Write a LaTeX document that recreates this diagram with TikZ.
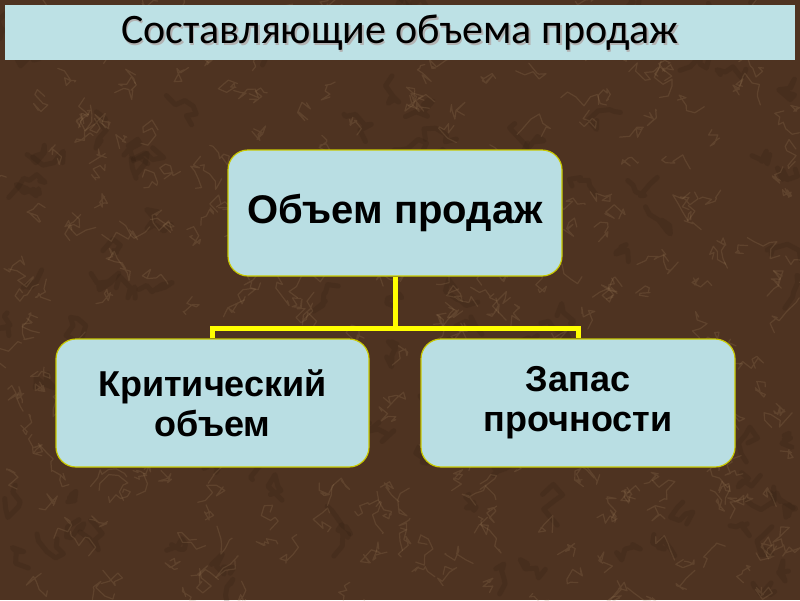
\documentclass[tikz,border=0pt]{standalone}
\usepackage{fontspec}
\setmainfont{Liberation Sans}
\newfontfamily\titlefont{Carlito}
\definecolor{bgbrown}{HTML}{4E3321}
\definecolor{veinlight}{HTML}{A68660}
\definecolor{veindark}{HTML}{2A190E}
\definecolor{boxblue}{HTML}{B9DEE3}
\definecolor{titleblue}{HTML}{BDE1E5}
\definecolor{linkyellow}{HTML}{FFFF00}
\definecolor{rimyellow}{HTML}{C8C800}
\tikzset{
  x=1pt, y=-1pt,
  itembox/.style={draw=rimyellow, line width=1.2pt, fill=boxblue, rounded corners=20pt, inner sep=0pt,
    align=center, text=black},
  link/.style={draw=linkyellow, line width=5pt},
  vein/.style={draw=veinlight, line width=1.2pt, opacity=0.2, line cap=round, line join=round},
  darkvein/.style={draw=veindark, line width=5pt, opacity=0.18, line cap=round, line join=round},
}
\begin{document}
\begin{tikzpicture}
\fill[bgbrown] (0,0) rectangle (800,600);
\useasboundingbox (0,0) rectangle (800,600);
% marble texture
\begin{scope}
\clip (0,0) rectangle (800,600);
\pgfmathsetseed{11}
\foreach \i in {1,...,120}{
  \pgfmathsetmacro{\ax}{800*rnd}
  \pgfmathsetmacro{\ay}{600*rnd}
  \draw[darkvein] (\ax,\ay)
    \foreach \k in {1,...,6}{ -- ++({12*rand},{12*rand}) };
}
\foreach \i in {1,...,380}{
  \pgfmathsetmacro{\ax}{800*rnd}
  \pgfmathsetmacro{\ay}{600*rnd}
  \draw[vein] (\ax,\ay)
    \foreach \k in {1,...,7}{ -- ++({10*rand},{10*rand}) };
}
\end{scope}
% title bar
\fill[titleblue] (5,5) rectangle (795,60);
\node[text=gray!60, font=\titlefont\fontsize{42}{46}\selectfont] at (401.5,34.5) {Составляющие объема продаж};
\node (title) [text=black, font=\titlefont\fontsize{42}{46}\selectfont] at (400,33) {Составляющие объема продаж};
% boxes
\node (top) [itembox, font=\bfseries\fontsize{40}{44}\selectfont, minimum width=334pt, minimum height=126pt] at (395,213) {Объем продаж};
\node (left) [itembox, font=\bfseries\fontsize{36}{40}\selectfont, minimum width=313pt, minimum height=128pt] at (212.5,403) {Критический\\объем};
\node (right) [itembox, font=\bfseries\fontsize{36}{40}\selectfont, minimum width=314pt, minimum height=128pt] at (578,403) {Запас\\прочности};
% connectors
\coordinate (mid) at (395,328);
\draw[link] (top.south) -- (mid);
\draw[link, line join=miter] (left.north) -- (left.north |- mid) -- (right.north |- mid) -- (right.north);
\end{tikzpicture}
\end{document}
